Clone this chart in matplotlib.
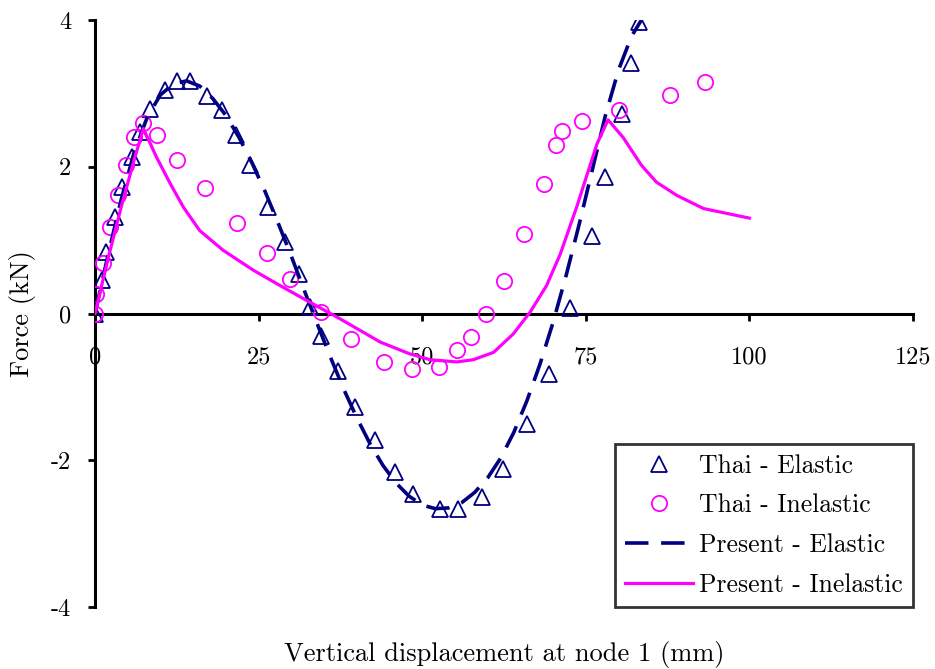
import matplotlib
matplotlib.use("Agg")
import matplotlib.pyplot as plt

plt.rcParams["font.family"] = ["cmr10", "DejaVu Serif"]
plt.rcParams["axes.formatter.use_mathtext"] = True

# Thai - Elastic (reference results)
thai_el_x = [0.0, 1.0, 1.7, 3.1, 4.2, 5.7, 6.9, 8.4, 10.7, 12.5, 14.5, 17.1, 19.4,
             21.6, 23.7, 26.5, 29.0, 31.1, 32.9, 34.6, 37.2, 39.7, 42.8, 45.8,
             48.6, 52.7, 55.5, 59.1, 62.3, 66.0, 69.4, 72.6, 75.9, 77.9, 80.5,
             81.9, 83.2]
thai_el_y = [0.0, 0.45, 0.84, 1.31, 1.72, 2.13, 2.47, 2.79, 3.04, 3.17, 3.17, 2.97,
             2.77, 2.43, 2.02, 1.45, 0.97, 0.54, 0.09, -0.30, -0.78, -1.28, -1.73,
             -2.16, -2.46, -2.66, -2.66, -2.50, -2.12, -1.50, -0.82, 0.07, 1.06,
             1.86, 2.72, 3.42, 3.97]

# Thai - Inelastic (reference results)
thai_in_x = [0.0, 0.2, 1.2, 2.3, 3.5, 4.7, 5.9, 7.4, 9.4, 12.5, 16.8, 21.7, 26.3,
             29.8, 34.6, 39.1, 44.2, 48.5, 52.5, 55.3, 57.5, 59.7, 62.5, 65.6,
             68.6, 70.5, 71.3, 74.4, 80.0, 87.9, 93.2]
thai_in_y = [0.0, 0.27, 0.69, 1.18, 1.61, 2.03, 2.40, 2.59, 2.43, 2.09, 1.71, 1.24,
             0.82, 0.47, 0.02, -0.35, -0.66, -0.75, -0.73, -0.50, -0.32, 0.0,
             0.44, 1.09, 1.76, 2.29, 2.49, 2.63, 2.77, 2.98, 3.16]

# Present - Elastic
pres_el_x = [0.0, 2.0, 4.0, 6.0, 8.0, 10.0, 12.0, 14.0, 16.0, 18.0, 20.0, 22.0,
             24.0, 26.0, 28.0, 30.0, 32.0, 34.0, 36.0, 38.0, 40.0, 42.0, 44.0,
             46.0, 48.0, 50.0, 52.0, 54.0, 56.0, 58.0, 60.0, 62.0, 64.0, 66.0,
             68.0, 70.0, 72.0, 74.0, 76.0, 78.0, 80.0, 82.0, 83.5]
pres_el_y = [0.0, 0.80, 1.55, 2.20, 2.68, 2.98, 3.13, 3.17, 3.10, 2.93, 2.70, 2.40,
             2.05, 1.66, 1.23, 0.78, 0.31, -0.15, -0.60, -1.03, -1.42, -1.77,
             -2.07, -2.31, -2.49, -2.61, -2.66, -2.65, -2.58, -2.44, -2.24, -1.97,
             -1.62, -1.19, -0.69, -0.12, 0.52, 1.22, 1.96, 2.70, 3.32, 3.78, 4.0]

# Present - Inelastic
pres_in_x = [0.0, 2.0, 4.0, 6.0, 7.4, 9.4, 11.5, 13.5, 16.0, 19.6, 24.2, 28.3,
             32.3, 37.4, 43.6, 48.1, 51.2, 55.3, 57.8, 60.9, 63.9, 66.5, 69.0,
             71.1, 73.6, 76.7, 78.4, 80.7, 83.5, 85.8, 88.9, 93.0, 100.0]
pres_in_y = [0.0, 0.75, 1.45, 2.10, 2.52, 2.13, 1.77, 1.45, 1.13, 0.86, 0.59, 0.38,
             0.18, -0.07, -0.39, -0.55, -0.63, -0.66, -0.63, -0.53, -0.28, 0.02,
             0.38, 0.81, 1.45, 2.31, 2.64, 2.40, 2.02, 1.79, 1.61, 1.43, 1.30]

x_ticks = [0, 25, 50, 75, 100, 125]
x_tick_labels = ["0", "25", "50", "75", "100", "125"]
y_ticks = [-4, -2, 0, 2, 4]
y_tick_labels = ["-4", "-2", "0", "2", "4"]

navy = "#000080"
magenta = "#FF00FF"
tick_fs = 17.5
label_fs = 19
legend_fs = 18.5

W, H = 935, 669
fig = plt.figure(figsize=(W / 100, H / 100), dpi=100)
ax = fig.add_axes([95 / W, 1 - 607 / H, (913 - 95) / W, (607 - 20) / H])

ax.plot(thai_el_x, thai_el_y, linestyle="none", marker="^", markersize=12,
        markerfacecolor="none", markeredgecolor=navy, markeredgewidth=1.3,
        label="Thai - Elastic", zorder=3)
ax.plot(thai_in_x, thai_in_y, linestyle="none", marker="o", markersize=11,
        markerfacecolor="none", markeredgecolor=magenta, markeredgewidth=1.3,
        label="Thai - Inelastic", zorder=4)
ax.plot(pres_el_x, pres_el_y, color=navy, linewidth=2.6, dashes=(6.5, 3.5),
        label="Present - Elastic", zorder=5)
ax.plot(pres_in_x, pres_in_y, color=magenta, linewidth=2.3,
        label="Present - Inelastic", zorder=6)

ax.set_xlim(0, 125)
ax.set_ylim(-4, 4)

for side in ("top", "right"):
    ax.spines[side].set_visible(False)
ax.spines["left"].set_position(("data", 0))
ax.spines["bottom"].set_position(("data", 0))
ax.spines["left"].set_linewidth(2.2)
ax.spines["bottom"].set_linewidth(2.2)
ax.spines["left"].set_bounds(-4, 4)
ax.spines["bottom"].set_bounds(0, 125)

ax.set_xticks(x_ticks)
ax.set_xticklabels(x_tick_labels)
ax.set_yticks(y_ticks)
ax.set_yticklabels(y_tick_labels)
ax.tick_params(axis="both", direction="out", length=5, width=2.0, labelsize=tick_fs)
ax.tick_params(axis="x", pad=19)
ax.tick_params(axis="y", pad=12)

fig.text(504 / W, 1 - 654 / H, "Vertical displacement at node 1 (mm)",
         fontsize=label_fs, ha="center", va="center")
fig.text(22 / W, 1 - 314 / H, "Force (kN)", fontsize=label_fs,
         rotation=90, ha="center", va="center")

leg = ax.legend(loc="lower right", bbox_to_anchor=(1.0, 0.0), fontsize=legend_fs,
                frameon=True, fancybox=False, edgecolor="black",
                handlelength=2.65, handletextpad=0.23, labelspacing=0.62,
                borderpad=0.4, borderaxespad=0.0)
leg.get_frame().set_linewidth(2.0)

fig.savefig("out.png", dpi=100)
